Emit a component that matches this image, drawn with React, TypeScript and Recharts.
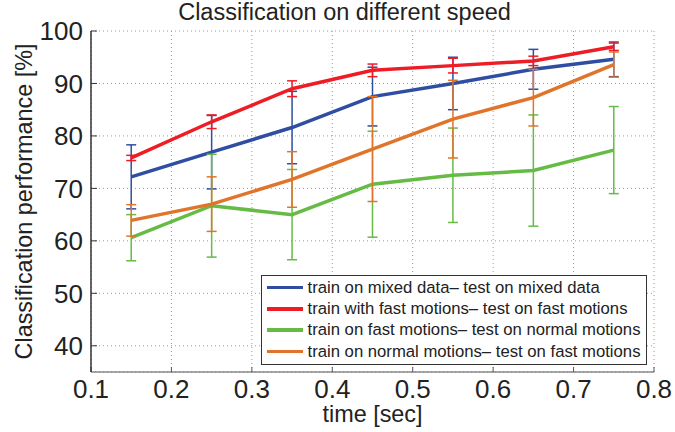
import {
  CartesianGrid,
  ErrorBar,
  Label,
  Line,
  LineChart,
  XAxis,
  YAxis,
} from "recharts";

const TIMES = [0.15, 0.25, 0.35, 0.45, 0.55, 0.65, 0.75];
const X_TICKS = [0.1, 0.2, 0.3, 0.4, 0.5, 0.6, 0.7, 0.8];
const Y_TICKS = [40, 50, 60, 70, 80, 90, 100];

const MIXED = [72.2, 76.9, 81.6, 87.5, 90.0, 92.7, 94.6];
const MIXED_ERR = [6.1, 7.0, 6.9, 5.6, 5.0, 3.8, 3.3];
const FAST = [75.8, 82.7, 89.0, 92.5, 93.4, 94.3, 97.0];
const FAST_ERR = [0.5, 1.3, 1.5, 1.2, 1.4, 0.9, 0.7];
const FAST_NORMAL = [60.6, 66.7, 65.0, 70.8, 72.5, 73.4, 77.3];
const FAST_NORMAL_ERR = [4.4, 9.8, 8.6, 10.1, 9.0, 10.6, 8.3];
const NORMAL_FAST = [63.9, 67.0, 71.7, 77.5, 83.2, 87.3, 93.6];
const NORMAL_FAST_ERR = [3.0, 5.2, 5.3, 10.0, 7.4, 5.4, 2.4];

const SERIES = [
  { key: "mixed", name: "train on mixed data\u2013 test on mixed data", color: "#2f4ea2" },
  { key: "fast", name: "train with fast motions\u2013 test on fast motions", color: "#ee1c25" },
  { key: "fastNormal", name: "train on fast motions\u2013 test on normal motions", color: "#66bb45" },
  { key: "normalFast", name: "train on normal motions\u2013 test on fast motions", color: "#e1742b" },
];

const data = TIMES.map((t, i) => ({
  t,
  mixed: MIXED[i],
  mixedErr: MIXED_ERR[i],
  fast: FAST[i],
  fastErr: FAST_ERR[i],
  fastNormal: FAST_NORMAL[i],
  fastNormalErr: FAST_NORMAL_ERR[i],
  normalFast: NORMAL_FAST[i],
  normalFastErr: NORMAL_FAST_ERR[i],
}));

const FONT = "'Liberation Sans', Arial, Helvetica, sans-serif";

function LegendBox() {
  return (
    <div
      style={{
        position: "absolute",
        left: 261,
        top: 275,
        border: "1.5px solid #333",
        background: "#fff",
        padding: "1px 0 0 5px",
        boxSizing: "border-box",
        width: 386,
        height: 90,
        fontFamily: FONT,
        fontSize: 16.7,
        color: "#222",
      }}
    >
      {SERIES.map((s) => (
        <div
          key={s.key}
          style={{ display: "flex", alignItems: "center", height: 21.3, whiteSpace: "nowrap" }}
        >
          <span
            style={{ display: "inline-block", width: 36, height: 3.5, background: s.color, marginRight: 4.5 }}
          />
          {s.name}
        </div>
      ))}
    </div>
  );
}

export default function App() {
  return (
    <div style={{ position: "absolute", left: 0, top: 0, width: 675, height: 432, background: "#fff" }}>
      <LineChart
        width={675}
        height={432}
        data={data}
        margin={{ top: 31, right: 21, bottom: 0, left: 0 }}
        style={{ fontFamily: FONT }}
      >
        <CartesianGrid stroke="#999" strokeDasharray="1 3" strokeWidth={1} />
        <XAxis
          dataKey="t"
          type="number"
          domain={[0.1, 0.8]}
          ticks={X_TICKS}
          allowDataOverflow
          tickFormatter={(v: number) => v.toFixed(1)}
          tick={{ fill: "#222", fontSize: 26 }}
          tickSize={-5}
          tickMargin={13}
          tickLine={{ stroke: "#555" }}
          axisLine={{ stroke: "#888", strokeWidth: 1.5 }}
          height={60}
        >
          <Label
            value="time [sec]"
            position="insideBottom"
            offset={10}
            style={{ fill: "#222", fontSize: 23.4 }}
          />
        </XAxis>
        <YAxis
          type="number"
          domain={[35, 100]}
          ticks={Y_TICKS}
          allowDataOverflow
          tick={{ fill: "#222", fontSize: 26 }}
          tickSize={-6}
          tickMargin={14}
          tickLine={{ stroke: "#333" }}
          axisLine={{ stroke: "#333", strokeWidth: 1.5 }}
          width={91}
        >
          <Label
            value="Classification performance [%]"
            angle={-90}
            position="insideLeft"
            offset={24}
            style={{ fill: "#222", fontSize: 23.4, textAnchor: "middle" }}
          />
        </YAxis>
        {SERIES.map((s) => (
          <Line
            key={s.key}
            dataKey={s.key}
            name={s.name}
            stroke={s.color}
            strokeWidth={3.5}
            dot={false}
            isAnimationActive={false}
          >
            <ErrorBar
              dataKey={`${s.key}Err`}
              direction="y"
              width={5}
              stroke={s.color}
              strokeWidth={1.5}
              isAnimationActive={false}
            />
          </Line>
        ))}
      </LineChart>
      <div
        style={{
          position: "absolute",
          left: 0,
          width: 675,
          top: 0,
          textAlign: "center",
          paddingLeft: 14,
          boxSizing: "border-box",
          fontFamily: FONT,
          fontSize: 23.5,
          color: "#222",
          lineHeight: "24px",
          whiteSpace: "nowrap",
        }}
      >
        Classification on different speed
      </div>
      <LegendBox />
    </div>
  );
}
